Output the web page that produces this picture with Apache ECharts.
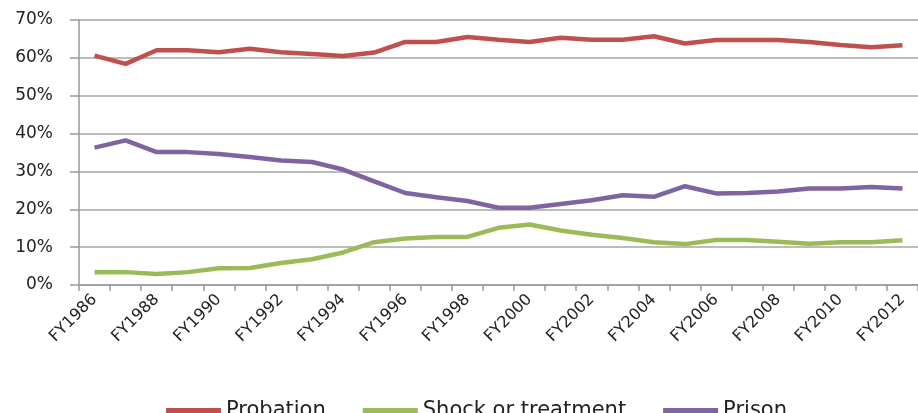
<!DOCTYPE html>
<html>
<head>
<meta charset="utf-8">
<script src="https://cdn.jsdelivr.net/npm/echarts@6/dist/echarts.min.js"></script>
<style>
html,body{margin:0;padding:0;background:#fff;}
#chart{width:918px;height:413px;}
</style>
</head>
<body>
<div id="chart"></div>
<script>
const years = ['FY1986','FY1987','FY1988','FY1989','FY1990','FY1991','FY1992','FY1993','FY1994','FY1995','FY1996','FY1997','FY1998','FY1999','FY2000','FY2001','FY2002','FY2003','FY2004','FY2005','FY2006','FY2007','FY2008','FY2009','FY2010','FY2011','FY2012'];
const probation = [60.6,58.4,62.0,62.0,61.5,62.4,61.5,61.0,60.5,61.4,64.2,64.2,65.5,64.8,64.2,65.3,64.8,64.8,65.7,63.8,64.7,64.7,64.7,64.2,63.4,62.8,63.3];
const shock = [3.4,3.4,2.9,3.4,4.4,4.5,5.8,6.8,8.6,11.3,12.3,12.7,12.7,15.1,16.0,14.4,13.3,12.4,11.3,10.8,11.9,11.9,11.4,10.9,11.3,11.3,11.8];
const prison = [36.3,38.2,35.1,35.1,34.6,33.8,32.9,32.5,30.5,27.4,24.3,23.2,22.2,20.4,20.4,21.4,22.4,23.7,23.3,26.1,24.2,24.3,24.7,25.5,25.5,25.9,25.5];
const seriesNames = ['Probation','Shock or treatment','Prison'];
const yTicks = {min:0, max:70, interval:10};

const colors = ['#c0504d','#9bbb59','#8064a2'];
const chart = echarts.init(document.getElementById('chart'), null, {renderer:'canvas'});
const mk = (name, data, c) => ({
  name, type:'line', data, symbol:'none', smooth:false,
  lineStyle:{width:4.5, color:c}, itemStyle:{color:c}
});
chart.setOption({
  animation:false,
  textStyle:{fontFamily:'DejaVu Sans'},
  grid:{left:79, top:20, width:850, height:265},
  legend:{
    data:seriesNames, left:161, top:395, icon:'rect', itemWidth:55, itemHeight:5, itemGap:37,
    textStyle:{fontSize:21, color:'#222', fontFamily:'DejaVu Sans'}
  },
  xAxis:{
    type:'category', data:years, boundaryGap:true,
    axisLine:{lineStyle:{color:'#999', width:1.5}},
    axisTick:{show:true, length:6, interval:0, lineStyle:{color:'#999', width:1.5}},
    axisLabel:{interval:1, rotate:45, fontSize:16, color:'#222', margin:12, fontFamily:'DejaVu Sans'}
  },
  yAxis:{
    type:'value', min:yTicks.min, max:yTicks.max, interval:yTicks.interval,
    axisLine:{show:true, lineStyle:{color:'#999', width:1.5}},
    axisTick:{show:true, length:9, lineStyle:{color:'#999', width:1.5}},
    axisLabel:{formatter:'{value}%', fontSize:17, color:'#222', margin:26, fontFamily:'DejaVu Sans'},
    splitLine:{lineStyle:{color:'#a6a6a6', width:1.5}}
  },
  series:[mk(seriesNames[0],probation,colors[0]), mk(seriesNames[1],shock,colors[1]), mk(seriesNames[2],prison,colors[2])]
});
</script>
</body>
</html>
